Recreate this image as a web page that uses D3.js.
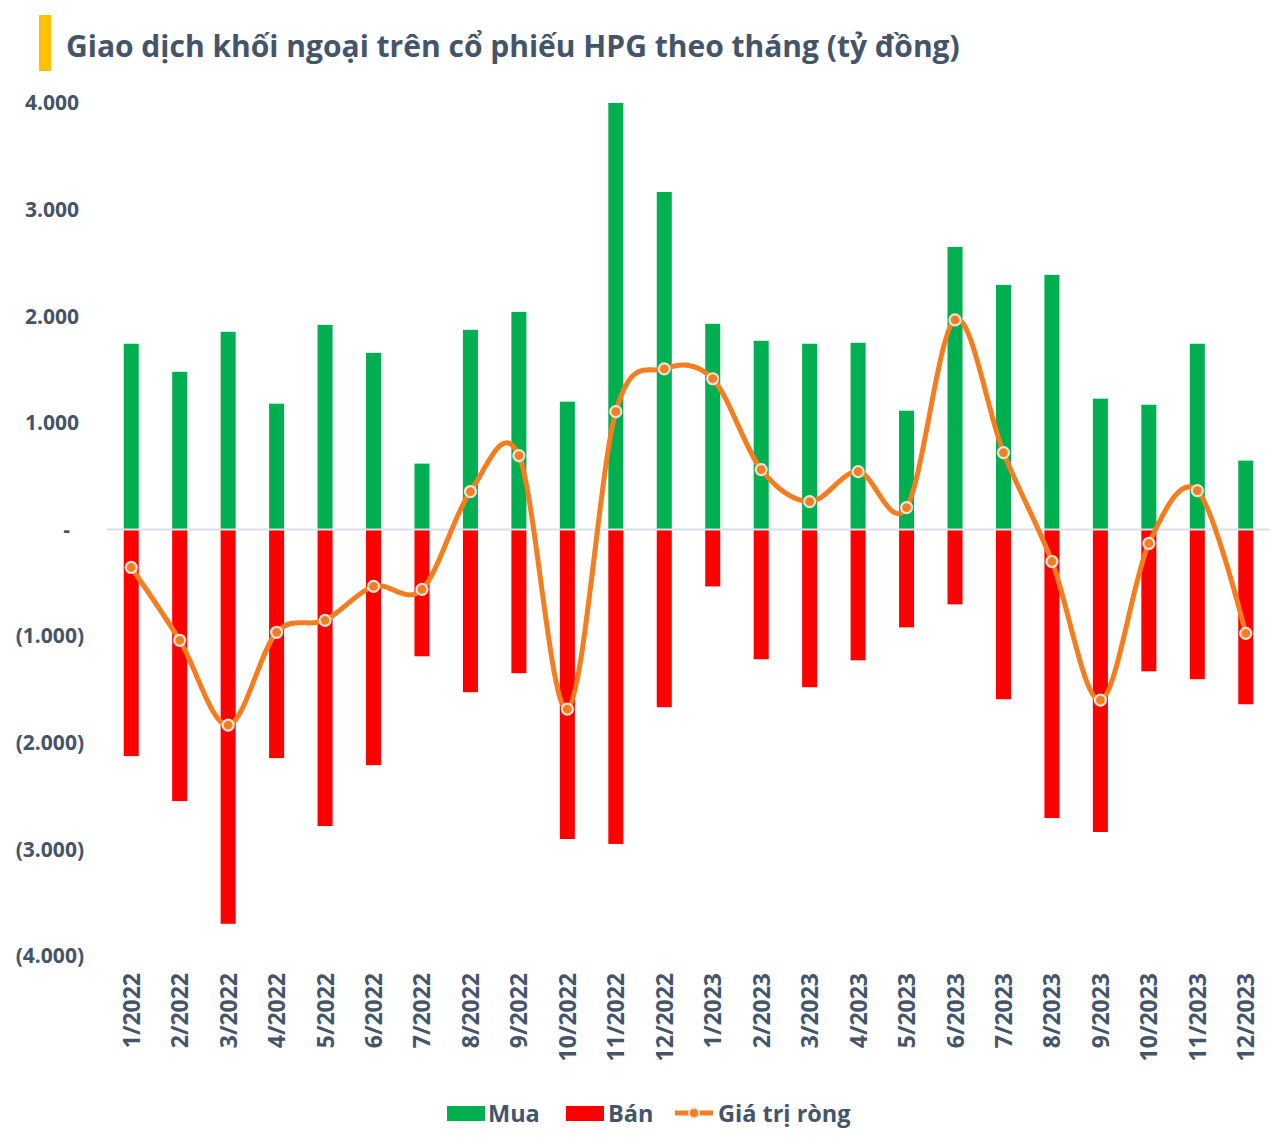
<!DOCTYPE html>
<html>
<head>
<meta charset="utf-8">
<script src="https://cdn.jsdelivr.net/npm/d3@7"></script>
<style>
  body { margin: 0; background: #fff; }
  svg text { font-family: "Open Sans", Lato, sans-serif; font-weight: bold; fill: #44546A; }
</style>
</head>
<body>
<svg id="chart"></svg>
<script>
// Months shown on the x axis
const months = ["1/2022", "2/2022", "3/2022", "4/2022", "5/2022", "6/2022", "7/2022", "8/2022",
  "9/2022", "10/2022", "11/2022", "12/2022", "1/2023", "2/2023", "3/2023", "4/2023",
  "5/2023", "6/2023", "7/2023", "8/2023", "9/2023", "10/2023", "11/2023", "12/2023"];

// Foreign buy value (ty dong)
const buy = [1742, 1479, 1854, 1180, 1919, 1657, 618, 1873, 2041, 1199, 4000, 3165,
  1929, 1770, 1742, 1751, 1114, 2650, 2294, 2388, 1227, 1170, 1742, 646];

// Foreign sell value (negative)
const sell = [-2125, -2547, -3698, -2144, -2781, -2210, -1189, -1526, -1348, -2903, -2949, -1667,
  -534, -1217, -1479, -1227, -918, -702, -1592, -2706, -2837, -1330, -1404, -1639];

// Net value
const net = [-356, -1039, -1835, -964, -852, -534, -562, 356, 693, -1685, 1105, 1507,
  1414, 562, 262, 543, 206, 1966, 721, -300, -1601, -131, 365, -974];

const yTicks = [4000, 3000, 2000, 1000, 0, -1000, -2000, -3000, -4000];

const width = 1288;
const height = 1144;

const svg = d3.select("#chart")
  .attr("width", width)
  .attr("height", height);

// Title with yellow marker
svg.append("rect")
  .attr("x", 39).attr("y", 15)
  .attr("width", 12).attr("height", 56)
  .attr("fill", "#FFC000");

svg.append("text")
  .attr("x", 66).attr("y", 57)
  .style("font-size", "30px")
  .text("Giao dịch khối ngoại trên cổ phiếu HPG theo tháng (tỷ đồng)");

// Scales
const xScale = d3.scaleBand()
  .domain(months)
  .range([107, 1270])
  .paddingInner(0.69)
  .paddingOuter(0.345);

const yScale = d3.scaleLinear()
  .domain([-4000, 4000])
  .range([956, 103]);

// Y axis labels (accounting style)
const fmt = d3.format(",");
const yLabel = v => {
  if (v === 0) return "-";
  const s = fmt(Math.abs(v)).replace(/,/g, ".");
  return v < 0 ? "(" + s + ")" : s;
};

svg.selectAll(".ytick")
  .data(yTicks)
  .enter()
  .append("text")
  .attr("class", "ytick")
  .attr("x", d => d < 0 ? 84 : (d === 0 ? 70 : 79))
  .attr("y", d => yScale(d))
  .attr("dy", "0.35em")
  .style("text-anchor", "end")
  .style("font-size", "21px")
  .text(yLabel);

// Buy bars
svg.selectAll(".buy")
  .data(buy)
  .enter()
  .append("rect")
  .attr("class", "buy")
  .attr("x", (d, i) => xScale(months[i]))
  .attr("y", d => yScale(d))
  .attr("width", xScale.bandwidth())
  .attr("height", d => yScale(0) - yScale(d))
  .attr("fill", "#00B050");

// Sell bars
svg.selectAll(".sell")
  .data(sell)
  .enter()
  .append("rect")
  .attr("class", "sell")
  .attr("x", (d, i) => xScale(months[i]))
  .attr("y", yScale(0))
  .attr("width", xScale.bandwidth())
  .attr("height", d => yScale(d) - yScale(0))
  .attr("fill", "#FF0000");

// Zero line
svg.append("line")
  .attr("x1", 107).attr("x2", 1270)
  .attr("y1", yScale(0)).attr("y2", yScale(0))
  .attr("stroke", "#D9DEE8")
  .attr("stroke-width", 2);

// Net line (smoothed)
const cx = i => xScale(months[i]) + xScale.bandwidth() / 2;
const line = d3.line()
  .x((d, i) => cx(i))
  .y(d => yScale(d))
  .curve(d3.curveCardinal.tension(0));

svg.append("path")
  .datum(net)
  .attr("d", line)
  .attr("fill", "none")
  .attr("stroke", "#F57D20")
  .attr("stroke-width", 5);

svg.selectAll(".dot")
  .data(net)
  .enter()
  .append("circle")
  .attr("class", "dot")
  .attr("cx", (d, i) => cx(i))
  .attr("cy", d => yScale(d))
  .attr("r", 5.5)
  .attr("fill", "#F57D20")
  .attr("stroke", "#EEE3DA")
  .attr("stroke-width", 2.2);

// X axis labels
svg.selectAll(".xlabel")
  .data(months)
  .enter()
  .append("text")
  .attr("class", "xlabel")
  .attr("transform", d => `translate(${xScale(d) + xScale.bandwidth() / 2 + 8.5}, 973) rotate(-90)`)
  .style("text-anchor", "end")
  .style("font-size", "23px")
  .text(d => d);

// Legend
const legend = svg.append("g");
const legendY = 1113;

legend.append("rect").attr("x", 447).attr("y", legendY - 7).attr("width", 38).attr("height", 15).attr("fill", "#00B050");
legend.append("text").attr("x", 488).attr("y", legendY + 8.5).style("font-size", "23.5px").text("Mua");

legend.append("rect").attr("x", 566).attr("y", legendY - 7).attr("width", 38).attr("height", 15).attr("fill", "#FF0000");
legend.append("text").attr("x", 608).attr("y", legendY + 8.5).style("font-size", "23.5px").text("Bán");

legend.append("line").attr("x1", 675).attr("x2", 713).attr("y1", legendY).attr("y2", legendY)
  .attr("stroke", "#F57D20").attr("stroke-width", 5);
legend.append("circle").attr("cx", 694).attr("cy", legendY).attr("r", 5)
  .attr("fill", "#F57D20").attr("stroke", "#EEE3DA").attr("stroke-width", 2);
legend.append("text").attr("x", 718).attr("y", legendY + 8.5).style("font-size", "23.5px").text("Giá trị ròng");
</script>
</body>
</html>
